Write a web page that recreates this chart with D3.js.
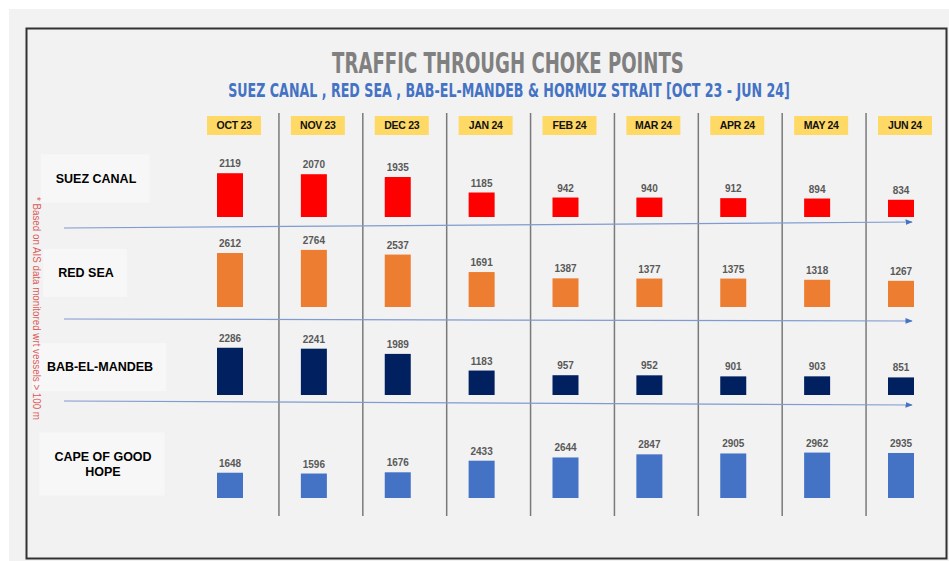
<!DOCTYPE html>
<html lang="en">
<head>
<meta charset="utf-8" />
<title>Traffic through choke points</title>
<script src="https://d3js.org/d3.v7.min.js"></script>
<style>
    body { margin: 0; background: #fff; }
    text { font-family: "Liberation Sans", Arial, sans-serif; }
    .title { font-family: "DejaVu Sans Condensed", "Liberation Sans Narrow", sans-serif; font-weight: bold; }
</style>
</head>
<body>
<div id="chart"></div>
<script>
// data
const months = ["OCT 23", "NOV 23", "DEC 23", "JAN 24", "FEB 24", "MAR 24", "APR 24", "MAY 24", "JUN 24"];
const routes = ["SUEZ CANAL", "RED SEA", "BAB-EL-MANDEB", "CAPE OF GOOD HOPE"];
const suezCanal = [2119, 2070, 1935, 1185, 942, 940, 912, 894, 834];
const redSea = [2612, 2764, 2537, 1691, 1387, 1377, 1375, 1318, 1267];
const babElMandeb = [2286, 2241, 1989, 1183, 957, 952, 901, 903, 851];
const capeOfGoodHope = [1648, 1596, 1676, 2433, 2644, 2847, 2905, 2962, 2935];
const barColors = ["#ff0000", "#ed7d31", "#002060", "#4472c4"];
const footnote = "* Based on AIS data monitored wrt vessels > 100 m";

const series = [suezCanal, redSea, babElMandeb, capeOfGoodHope];

const width = 949, height = 561,
      barWidth = 26;

const svg = d3.select("#chart").append("svg")
    .attr("width", width)
    .attr("height", height);

// page + frame
svg.append("rect").attr("x", 9).attr("y", 9).attr("width", width - 9).attr("height", height - 9)
    .attr("fill", "#f2f2f2");
svg.append("rect").attr("x", 26.5).attr("y", 28.5).attr("width", 920).attr("height", 530)
    .attr("fill", "#f2f2f2").attr("stroke", "#333").attr("stroke-width", 2);

// titles - squeezed horizontally to the width they take in the picture
function squeezedTitle(txt, cx, baseline, size, fill, targetWidth) {
    const g = svg.append("g");
    const t = g.append("text").attr("class", "title")
        .attr("text-anchor", "middle")
        .attr("font-size", size)
        .attr("fill", fill)
        .text(txt);
    const natural = t.node().getComputedTextLength();
    g.attr("transform", "translate(" + cx + "," + baseline + ") scale(" + (targetWidth / natural) + ",1)");
}
squeezedTitle("TRAFFIC THROUGH CHOKE POINTS", 508, 73, 29, "#808080", 352);
squeezedTitle("SUEZ CANAL , RED SEA , BAB-EL-MANDEB & HORMUZ STRAIT [OCT 23 - JUN 24]", 509, 97, 20, "#4472c4", 562);

// scales
const x = d3.scalePoint().domain(months).range([230, 901]);
const rowBase = d3.scaleOrdinal().domain(routes).range([217, 307, 395, 498]);
const rowSpan = d3.scaleOrdinal().domain(routes).range([62, 62, 62, 46]);
const arrowY = d3.scaleOrdinal().domain(routes).range([[228, 222], [319, 321], [401, 405]]);

// column dividers
const step = x.step();
svg.append("g").selectAll("line")
    .data(months.slice(0, -1))
    .join("line")
    .attr("x1", d => x(d) + step / 2 + 7)
    .attr("x2", d => x(d) + step / 2 + 7)
    .attr("y1", 113).attr("y2", 516)
    .attr("stroke", "#7a7a7a").attr("stroke-width", 1.5);

// month header boxes
const head = svg.append("g").selectAll("g")
    .data(months)
    .join("g")
    .attr("transform", d => "translate(" + (x(d) + 4) + ",125.5)");
head.append("rect")
    .attr("x", -27).attr("y", -9.5).attr("width", 54).attr("height", 19)
    .attr("fill", "#ffd966");
head.append("text")
    .attr("text-anchor", "middle").attr("dy", "0.36em")
    .attr("font-size", 10.5).attr("font-weight", "bold")
    .attr("letter-spacing", -0.3)
    .attr("fill", "#111")
    .text(d => d);

// arrow marker
svg.append("defs").append("marker")
    .attr("id", "arrow")
    .attr("viewBox", "0 0 10 10").attr("refX", 9).attr("refY", 5)
    .attr("markerWidth", 6).attr("markerHeight", 6)
    .attr("orient", "auto")
    .append("path").attr("d", "M0,1L10,5L0,9Z").attr("fill", "#4472c4");

// separator arrows between rows
svg.append("g").selectAll("line")
    .data(routes.slice(0, 3))
    .join("line")
    .attr("x1", 64).attr("x2", 912)
    .attr("y1", d => arrowY(d)[0]).attr("y2", d => arrowY(d)[1])
    .attr("stroke", "#7f9bd0").attr("stroke-width", 1.2)
    .attr("marker-end", "url(#arrow)");

// rows
routes.forEach(function (route, r) {
    const y = d3.scaleLinear().domain([0, 3000]).range([0, rowSpan(route)]);
    const base = rowBase(route);
    const g = svg.append("g").attr("class", "row");

    g.selectAll("rect")
        .data(series[r])
        .join("rect")
        .attr("x", (d, i) => x(months[i]) - barWidth / 2)
        .attr("y", d => base - y(d))
        .attr("width", barWidth)
        .attr("height", d => y(d))
        .attr("fill", barColors[r]);

    g.selectAll("text")
        .data(series[r])
        .join("text")
        .attr("x", (d, i) => x(months[i]))
        .attr("y", d => base - y(d) - 6)
        .attr("text-anchor", "middle")
        .attr("font-size", 10).attr("font-weight", "bold")
        .attr("fill", "#595959")
        .text(d => d);
});

// row labels in pale boxes
const labelCentre = d3.scaleOrdinal().domain(routes).range([[96, 178], [86, 272.5], [100, 366.5], [103, 463.5]]);
routes.forEach(function (route) {
    const c = labelCentre(route);
    const g = svg.append("g");
    const box = g.append("rect").attr("fill", "#f7f7f7");
    const lines = route === "CAPE OF GOOD HOPE" ? ["CAPE OF GOOD", "HOPE"] : [route];
    const t = g.append("text")
        .attr("text-anchor", "middle")
        .attr("font-size", 12.5).attr("font-weight", "bold")
        .attr("fill", "#000");
    lines.forEach(function (l, i) {
        t.append("tspan")
            .attr("x", c[0])
            .attr("y", c[1] + 4.5 + (i - (lines.length - 1) / 2) * 15)
            .text(l);
    });
    const b = t.node().getBBox();
    box.attr("x", b.x - 15).attr("y", b.y - 17)
        .attr("width", b.width + 28).attr("height", b.height + 34);
});

// rotated footnote
svg.append("text")
    .attr("transform", "translate(33,197) rotate(90)")
    .attr("font-size", 10)
    .attr("fill", "#dc5a5a")
    .attr("textLength", 223).attr("lengthAdjust", "spacingAndGlyphs")
    .text(footnote);
</script>
</body>
</html>
